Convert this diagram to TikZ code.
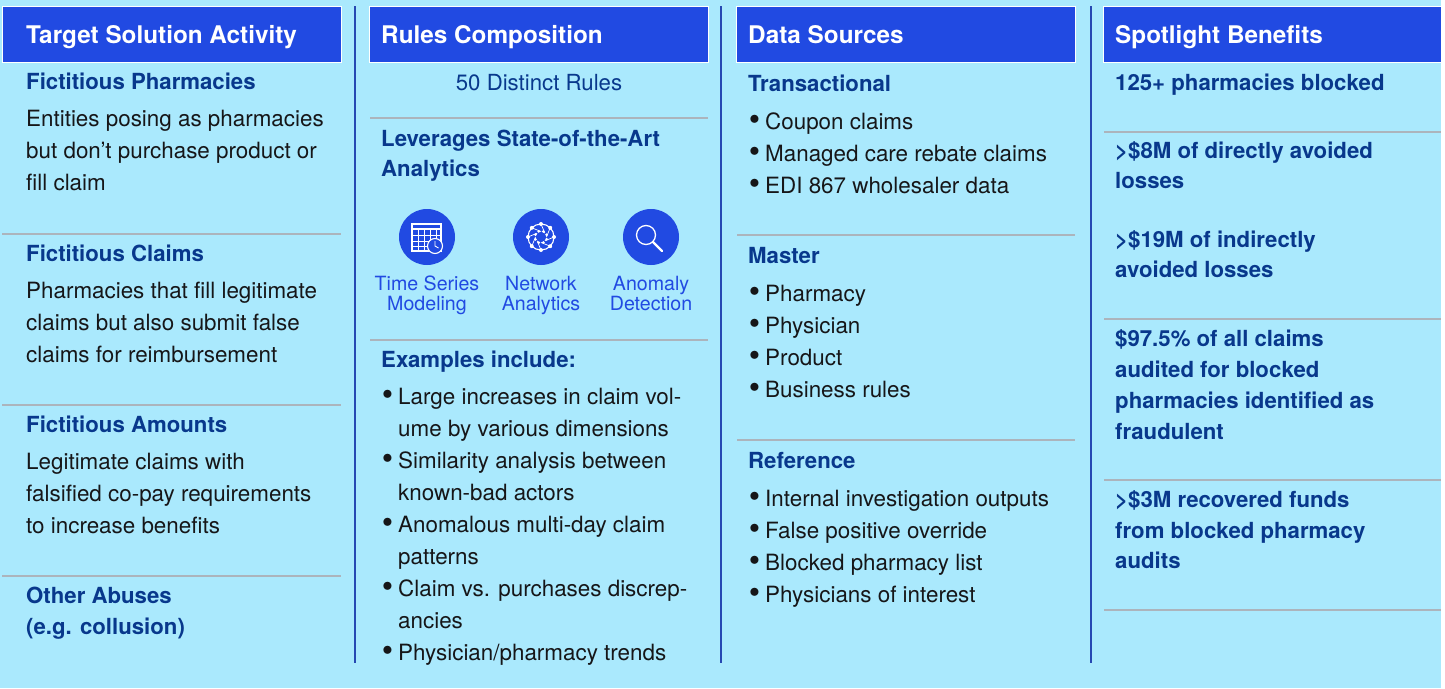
\documentclass[tikz,border=0pt]{standalone}
\usepackage{fontspec}
\setmainfont{TeX Gyre Heros}
\usepackage{xcolor}
\usepackage{tikz}
\usetikzlibrary{positioning}
\definecolor{panelbg}{RGB}{170,233,253}
\definecolor{headblue}{RGB}{33,74,226}
\definecolor{navy}{RGB}{8,56,140}
\definecolor{rulegray}{RGB}{172,180,188}
\definecolor{divblue}{RGB}{38,72,178}
\definecolor{bodytext}{RGB}{22,22,24}
\newcommand{\itembul}{\llap{\raisebox{-0.05em}{\scalebox{1.45}{\textbullet}}\hspace{5pt}}}

\begin{document}
\begin{tikzpicture}[x=1pt,y=-1pt,
	headbar/.style={fill=headblue,draw=white,line width=0.6pt},
	headtext/.style={anchor=base west,inner sep=0pt,text=white,font=\fontsize{24.3}{28}\selectfont\bfseries},
	subhead/.style={anchor=base west,inner sep=0pt,text=navy,font=\fontsize{22.2}{30}\selectfont\bfseries},
	bodyline/.style={anchor=base west,inner sep=0pt,text=bodytext,font=\fontsize{22.4}{32}\selectfont},
	iconlabel/.style={anchor=base,inner sep=0pt,text=headblue,font=\fontsize{19.6}{20}\selectfont},
	seprule/.style={rulegray,line width=1.5pt},
	divider/.style={divblue,line width=2pt},
	icondraw/.style={white,line width=1.1pt}]
	\useasboundingbox (0,0) rectangle (1445,688);
	\fill[white] (0,0) rectangle (1445,688);
	\fill[panelbg] (0,0) rectangle (1441,688);
	% column dividers
	\draw[divider] (355,6)--(355,663);
	\draw[divider] (721,6)--(721,663);
	\draw[divider] (1091,6)--(1091,663);
	% header bars
	\draw[headbar] (2,6) rectangle (341,62);
	\draw[headbar] (369,6) rectangle (708,62);
	\draw[headbar] (736,6) rectangle (1075,62);
	\draw[headbar] (1103,6) rectangle (1441,62);
	\node[headtext] (tsa) at (26,43) {Target Solution Activity};
	\node[headtext] (rc) at (381,43) {Rules Composition};
	\node[headtext] (ds) at (748,43) {Data Sources};
	\node[headtext] (sb) at (1115,43) {Spotlight Benefits};

	% target solution activity
	\node[subhead] (fph) at (26,89) {Fictitious Pharmacies};
	\node[bodyline] (fph1) at (26,126) {Entities posing as pharmacies};
	\node[bodyline] (fph2) at (26,158) {but don’t purchase product or};
	\node[bodyline] (fph3) at (26,190) {fill claim};
	\draw[seprule] (2,234)--(341,234);
	\node[subhead] (fcl) at (26,261) {Fictitious Claims};
	\node[bodyline] (fcl1) at (26,298) {Pharmacies that fill legitimate};
	\node[bodyline] (fcl2) at (26,330) {claims but also submit false};
	\node[bodyline] (fcl3) at (26,362) {claims for reimbursement};
	\draw[seprule] (2,405)--(341,405);
	\node[subhead] (fam) at (26,432) {Fictitious Amounts};
	\node[bodyline] (fam1) at (26,469) {Legitimate claims with};
	\node[bodyline] (fam2) at (26,501) {falsified co-pay requirements};
	\node[bodyline] (fam3) at (26,533) {to increase benefits};
	\draw[seprule] (2,576)--(341,576);
	\node[subhead] (oab) at (26,603) {Other Abuses};
	\node[subhead] (oab1) at (26,634) {(e.g. collusion)};

	% rules composition
	\node[anchor=base,inner sep=0pt,text=navy,font=\fontsize{22.2}{30}\selectfont] (dr) at (539,90) {50 Distinct Rules};
	\draw[seprule] (370,118)--(708,118);
	\node[subhead] (lev) at (381,146) {Leverages State-of-the-Art};
	\node[subhead] (lev1) at (381,176) {Analytics};
	\fill[headblue] (427,237) circle[radius=28pt];
	\fill[headblue] (541,237) circle[radius=28pt];
	\fill[headblue] (651,237) circle[radius=28pt];
	% calendar with clock
	\draw[icondraw] (412,224) rectangle (441,251);
	\draw[icondraw] (412,229)--(441,229);
	\foreach \gy in {235,241,246} \draw[white,line width=0.7pt] (412,\gy)--(441,\gy);
	\foreach \gx in {418,424,430,436} \draw[white,line width=0.7pt] (\gx,229)--(\gx,251);
	\filldraw[fill=headblue,draw=white,line width=1.1pt] (435,246) circle[radius=7.5pt];
	\draw[white,line width=0.9pt] (435,241)--(435,246)--(438.5,248);
	% network globe
	\draw[icondraw] (541,237) circle[radius=13pt];
	\foreach \a in {0,45,...,315} {
		\draw[white,line width=0.7pt] (541,237) ++(\a:13)--++(\a+157:10);
		\fill[white] (541,237) ++(\a:13) circle[radius=2pt];
		\fill[white] (541,237) ++(\a+22.5:6) circle[radius=1.5pt];
	}
	% magnifier
	\draw[icondraw,line width=1.3pt] (646,235) circle[radius=9.5pt];
	\draw[white,line width=2.4pt,line cap=round] (653,242)--(662,251);
	\node[iconlabel] (tsm) at (427,290) {Time Series};
	\node[iconlabel] (tsm1) at (427,310) {Modeling};
	\node[iconlabel] (nan) at (541,290) {Network};
	\node[iconlabel] (nan1) at (541,310) {Analytics};
	\node[iconlabel] (adt) at (651,290) {Anomaly};
	\node[iconlabel] (adt1) at (651,310) {Detection};
	\draw[seprule] (370,340)--(708,340);
	\node[subhead] (exi) at (381,367) {Examples include:};
	\node[bodyline] (ex1) at (398,404) {\itembul Large increases in claim vol-};
	\node[bodyline] (ex1a) at (398,436) {ume by various dimensions};
	\node[bodyline] (ex2) at (398,468) {\itembul Similarity analysis between};
	\node[bodyline] (ex2a) at (398,500) {known-bad actors};
	\node[bodyline] (ex3) at (398,532) {\itembul Anomalous multi-day claim};
	\node[bodyline] (ex3a) at (398,564) {patterns};
	\node[bodyline] (ex4) at (398,596) {\itembul Claim vs. purchases discrep-};
	\node[bodyline] (ex4a) at (398,628) {ancies};
	\node[bodyline] (ex5) at (398,660) {\itembul Physician/pharmacy trends};

	% data sources
	\node[subhead] (trn) at (748,91) {Transactional};
	\node[bodyline] (trn1) at (765,129) {\itembul Coupon claims};
	\node[bodyline] (trn2) at (765,161) {\itembul Managed care rebate claims};
	\node[bodyline] (trn3) at (765,193) {\itembul EDI 867 wholesaler data};
	\draw[seprule] (737,235)--(1075,235);
	\node[subhead] (mst) at (748,263) {Master};
	\node[bodyline] (mst1) at (765,301) {\itembul Pharmacy};
	\node[bodyline] (mst2) at (765,333) {\itembul Physician};
	\node[bodyline] (mst3) at (765,365) {\itembul Product};
	\node[bodyline] (mst4) at (765,397) {\itembul Business rules};
	\draw[seprule] (737,440)--(1075,440);
	\node[subhead] (ref) at (748,468) {Reference};
	\node[bodyline] (ref1) at (765,506) {\itembul Internal investigation outputs};
	\node[bodyline] (ref2) at (765,538) {\itembul False positive override};
	\node[bodyline] (ref3) at (765,570) {\itembul Blocked pharmacy list};
	\node[bodyline] (ref4) at (765,602) {\itembul Physicians of interest};

	% spotlight benefits
	\node[subhead] (pb) at (1115,90) {125+ pharmacies blocked};
	\draw[seprule] (1104,132)--(1441,132);
	\node[subhead] (dal) at (1115,158) {>\$8M of directly avoided};
	\node[subhead] (dal1) at (1115,188) {losses};
	\node[subhead] (ial) at (1115,247) {>\$19M of indirectly};
	\node[subhead] (ial1) at (1115,277) {avoided losses};
	\draw[seprule] (1104,319)--(1441,319);
	\node[subhead] (aud) at (1115,346) {\$97.5\% of all claims};
	\node[subhead] (aud1) at (1115,377) {audited for blocked};
	\node[subhead] (aud2) at (1115,408) {pharmacies identified as};
	\node[subhead] (aud3) at (1115,439) {fraudulent};
	\draw[seprule] (1104,480)--(1441,480);
	\node[subhead] (rf) at (1115,507) {>\$3M recovered funds};
	\node[subhead] (rf1) at (1115,538) {from blocked pharmacy};
	\node[subhead] (rf2) at (1115,568) {audits};
	\draw[seprule] (1104,610)--(1441,610);
\end{tikzpicture}
\end{document}
